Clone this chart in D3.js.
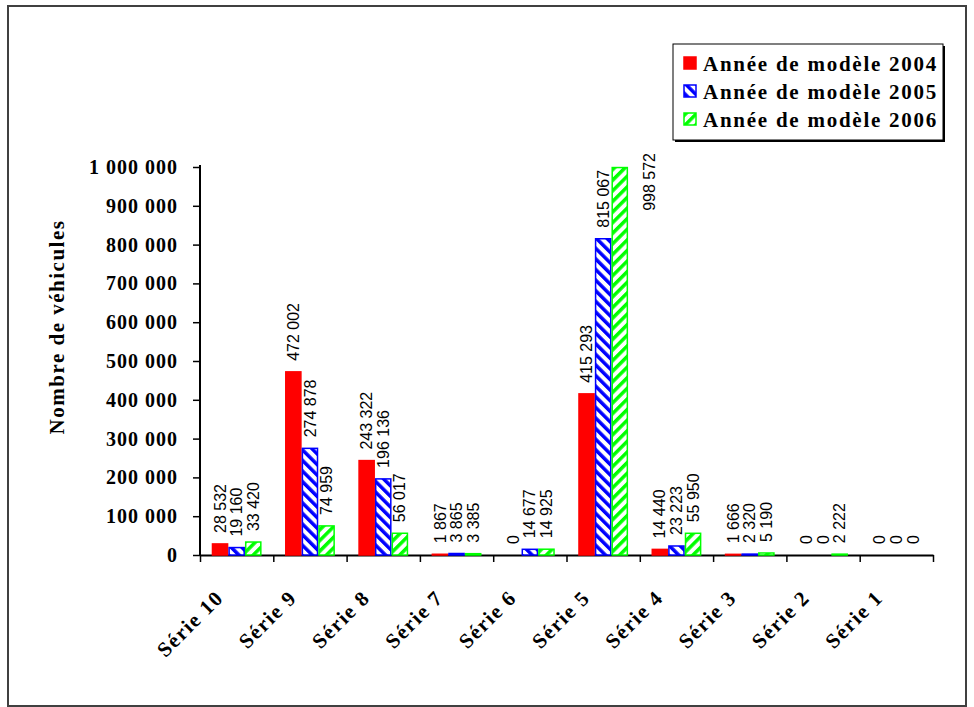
<!DOCTYPE html>
<html>
<head>
<meta charset="utf-8">
<script src="https://cdn.jsdelivr.net/npm/d3@7"></script>
<style>
  body { margin: 0; background: #fff; }
  svg { display: block; }
</style>
</head>
<body>
<script>
var categories = ["Série 10", "Série 9", "Série 8", "Série 7", "Série 6", "Série 5", "Série 4", "Série 3", "Série 2", "Série 1"];
var seriesNames = ["Année de modèle 2004", "Année de modèle 2005", "Année de modèle 2006"];
var values2004 = [28532, 472002, 243322, 1867, 0, 415293, 14440, 1666, 0, 0];
var values2005 = [19160, 274878, 196136, 3865, 14677, 815067, 23223, 2320, 0, 0];
var values2006 = [33420, 74959, 56017, 3385, 14925, 998572, 55950, 5190, 2222, 0];
var yTicks = [0, 100000, 200000, 300000, 400000, 500000, 600000, 700000, 800000, 900000, 1000000];

var width = 974, height = 707;
var plotLeft = 200, plotRight = 933, plotBottom = 555, plotTop = 167;
var serif = "'Liberation Serif', 'Times New Roman', serif";
var sans = "'Liberation Sans', Arial, sans-serif";

var series = [values2004, values2005, values2006];
var fills = ["#ff0000", "url(#hatchBlue)", "url(#hatchGreen)"];
var strokes = ["#ff0000", "#0000ff", "#00ff00"];

function fmt(v) {
	return d3.format(",")(v).replace(/,/g, " ");
}

var svg = d3.select("body").append("svg")
	.attr("width", width)
	.attr("height", height);

var defs = svg.append("defs");

function hatch(id, color, angle) {
	var p = defs.append("pattern")
		.attr("id", id)
		.attr("patternUnits", "userSpaceOnUse")
		.attr("width", 7.5)
		.attr("height", 7.5)
		.attr("patternTransform", "rotate(" + angle + ")");
	p.append("rect").attr("width", 7.5).attr("height", 7.5).attr("fill", "#fff");
	p.append("rect").attr("width", 3.5).attr("height", 7.5).attr("fill", color);
}
hatch("hatchBlue", "#0000ff", -45);
hatch("hatchGreen", "#00ff00", 45);

// outer frame
svg.append("rect")
	.attr("x", 8).attr("y", 6)
	.attr("width", 958).attr("height", 700)
	.attr("fill", "none")
	.attr("stroke", "#404040")
	.attr("stroke-width", 2);

var y = d3.scaleLinear().domain([0, 1000000]).range([plotBottom, plotTop]);
var x0 = d3.scaleBand().domain(categories).range([plotLeft, plotRight]).paddingInner(0.32).paddingOuter(0.16);
var x1 = d3.scaleBand().domain([0, 1, 2]).range([0, x0.bandwidth()]);

// y axis
var yAxis = svg.append("g")
	.attr("transform", "translate(" + plotLeft + ",0)")
	.call(d3.axisLeft(y).tickValues(yTicks).tickFormat(fmt).tickSize(7).tickPadding(15).tickSizeOuter(0));
yAxis.select(".domain").attr("stroke", "#000").attr("stroke-width", 2).attr("d", "M0," + plotBottom + "V" + (plotTop - 2));
yAxis.selectAll(".tick line").attr("stroke", "#000").attr("stroke-width", 1.5);
yAxis.selectAll("text")
	.attr("font-family", serif)
	.attr("font-weight", "bold")
	.attr("font-size", "20px")
	.attr("letter-spacing", "1px")
	.attr("fill", "#000");

// x axis with ticks between categories
var xb = d3.scaleLinear().domain([0, categories.length]).range([plotLeft, plotRight]);
var xAxis = svg.append("g")
	.attr("transform", "translate(0," + plotBottom + ")")
	.call(d3.axisBottom(xb).ticks(categories.length).tickFormat("").tickSize(7).tickSizeOuter(0));
xAxis.select(".domain").attr("stroke", "#000").attr("stroke-width", 2);
xAxis.selectAll(".tick line").attr("stroke", "#000").attr("stroke-width", 1.5);

// category labels
svg.append("g").selectAll("text")
	.data(categories)
	.enter()
	.append("text")
	.text(function (d) { return d; })
	.attr("transform", function (d) {
		return "translate(" + (x0(d) + x0.bandwidth() / 2 - 12) + "," + (plotBottom + 44) + ") rotate(-45)";
	})
	.attr("text-anchor", "end")
	.attr("font-family", serif)
	.attr("font-weight", "bold")
	.attr("font-size", "21px")
	.attr("letter-spacing", "1.5px");

// y title
svg.append("text")
	.text("Nombre de véhicules")
	.attr("transform", "translate(64,327) rotate(-90)")
	.attr("text-anchor", "middle")
	.attr("font-family", serif)
	.attr("font-weight", "bold")
	.attr("font-size", "21px")
	.attr("letter-spacing", "1.5px");

// bars
var groups = svg.append("g").selectAll("g")
	.data(categories)
	.enter()
	.append("g")
	.attr("transform", function (d) { return "translate(" + x0(d) + ",0)"; });

var cells = groups.selectAll("g")
	.data(function (d, i) {
		return series.map(function (s, k) { return { k: k, v: s[i] }; });
	})
	.enter()
	.append("g");

cells.filter(function (d) { return d.v > 0; })
	.append("rect")
	.attr("x", function (d) { return x1(d.k) + 0.75; })
	.attr("y", function (d) { return y(d.v); })
	.attr("width", x1.bandwidth() - 1.5)
	.attr("height", function (d) { return plotBottom - y(d.v); })
	.attr("fill", function (d) { return fills[d.k]; })
	.attr("stroke", function (d) { return strokes[d.k]; })
	.attr("stroke-width", 1.5);

// value labels
var labelLimit = 153;
cells.append("text")
	.text(function (d) { return fmt(d.v); })
	.attr("font-family", sans)
	.attr("font-size", "16px")
	.attr("fill", "#000")
	.attr("dy", "0.35em")
	.attr("transform", function (d) {
		var cx = x1(d.k) + x1.bandwidth() / 2;
		return "translate(" + cx + "," + (y(d.v) - 11) + ") rotate(-90)";
	})
	.each(function (d) {
		var len = this.getComputedTextLength();
		var cx = x1(d.k) + x1.bandwidth() / 2;
		if (y(d.v) - 11 - len < labelLimit) {
			d3.select(this).attr("transform", "translate(" + (cx + 30) + "," + (labelLimit + len) + ") rotate(-90)");
		}
	});

// legend
var legend = svg.append("g");
legend.append("rect")
	.attr("x", 675).attr("y", 46).attr("width", 270).attr("height", 96)
	.attr("fill", "#000");
legend.append("rect")
	.attr("x", 673).attr("y", 44).attr("width", 270).attr("height", 96)
	.attr("fill", "#fff").attr("stroke", "#000").attr("stroke-width", 1);

var items = legend.selectAll("g.item")
	.data(seriesNames)
	.enter()
	.append("g")
	.attr("class", "item")
	.attr("transform", function (d, i) { return "translate(684," + (57 + i * 28) + ")"; });

items.append("rect")
	.attr("width", 12).attr("height", 12)
	.attr("fill", function (d, i) { return fills[i]; })
	.attr("stroke", function (d, i) { return strokes[i]; })
	.attr("stroke-width", 1.5);

items.append("text")
	.text(function (d) { return d; })
	.attr("x", 19)
	.attr("y", 14)
	.attr("font-family", serif)
	.attr("font-weight", "bold")
	.attr("font-size", "21px")
	.attr("letter-spacing", "1.75px");
</script>
</body>
</html>
